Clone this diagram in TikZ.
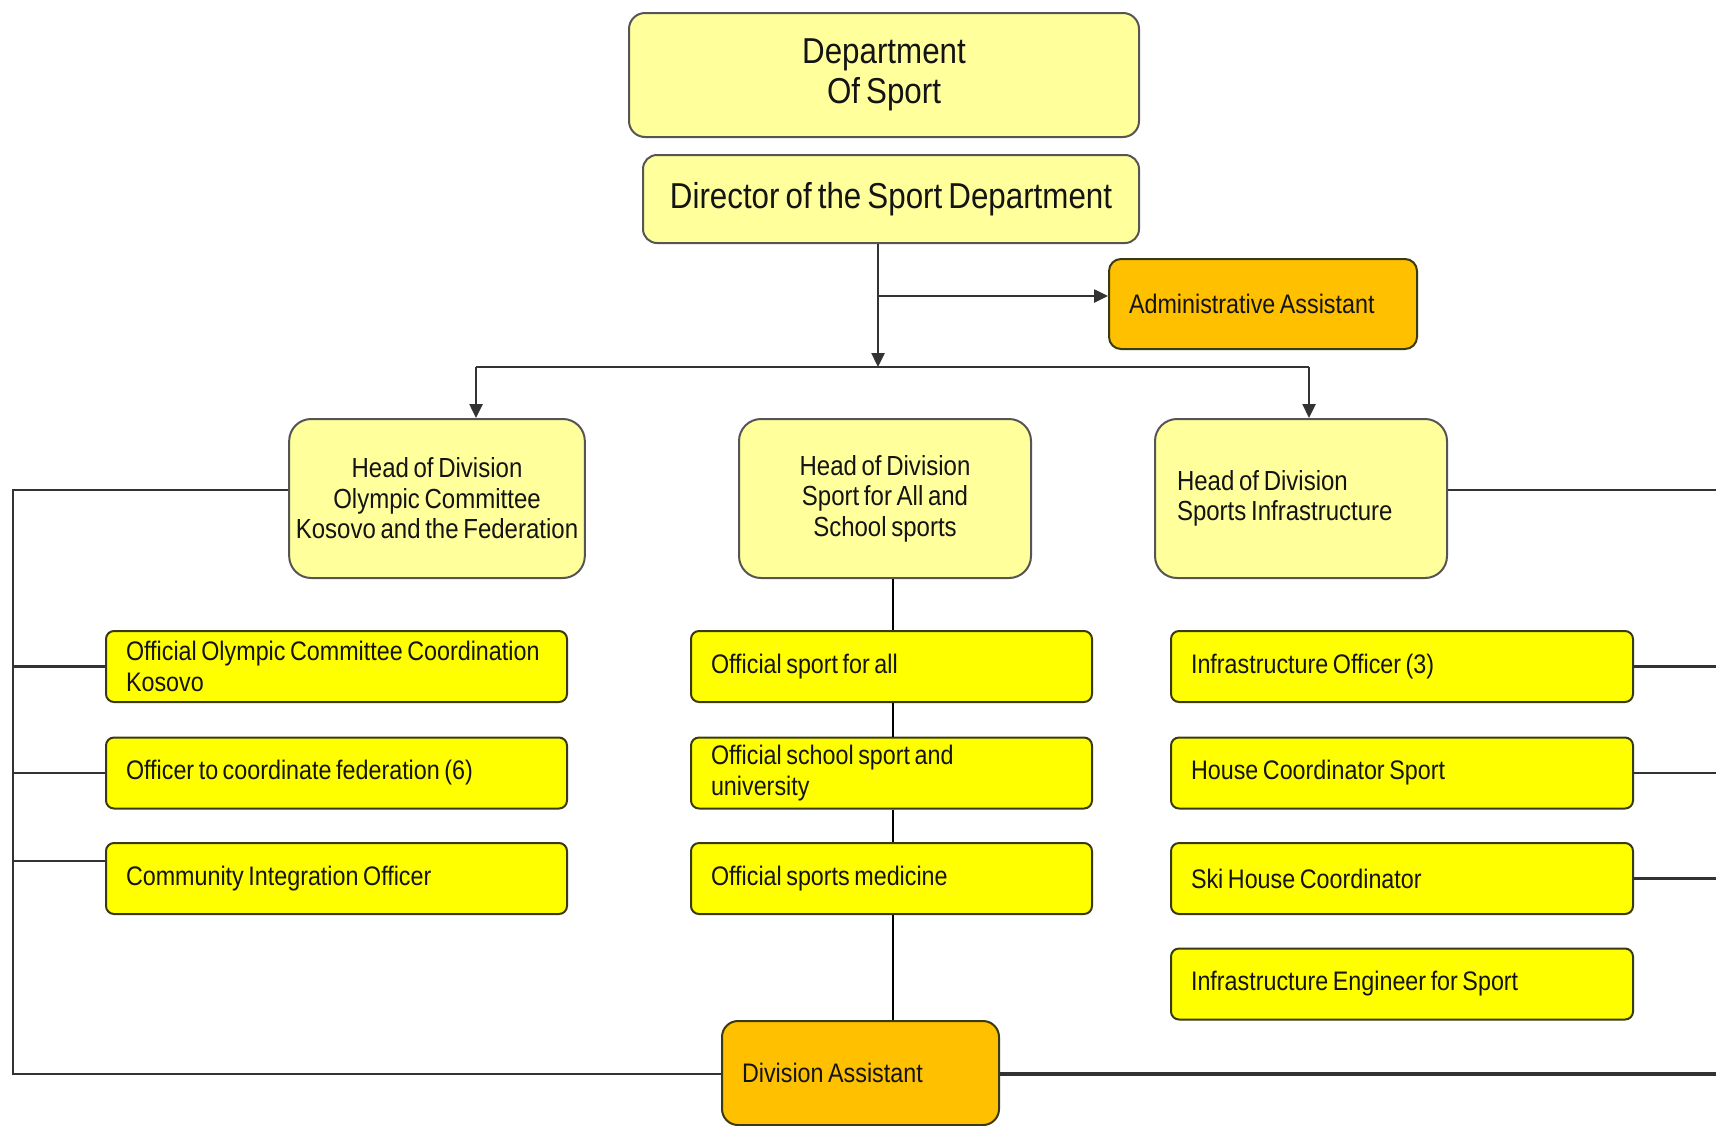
\documentclass[tikz,border=0pt]{standalone}
\usepackage{fontspec}
\setmainfont{Liberation Sans}[FakeStretch=0.87, WordSpace=0.7]
\usetikzlibrary{arrows.meta}

\definecolor{paleyel}{HTML}{FFFF9C}
\definecolor{brightyel}{HTML}{FFFF00}
\definecolor{amber}{HTML}{FFC000}
\definecolor{edgegray}{HTML}{555555}
\definecolor{edgeolive}{HTML}{3A3A12}
\definecolor{wirecol}{HTML}{333333}
\definecolor{ink}{HTML}{141414}

\begin{document}
\begin{tikzpicture}[x=0.5pt,y=-0.5pt,
  box/.style={draw, line width=1pt, text=ink, inner ysep=0pt},
  pale/.style={box, fill=paleyel, draw=edgegray},
  topbox/.style={pale, align=center, font=\fontsize{18}{19.7}\selectfont},
  headbox/.style={pale, minimum width=146pt, minimum height=79.5pt,
    rounded corners=11pt, font=\fontsize{13.8}{15.3}\selectfont},
  staff/.style={box, fill=brightyel, draw=edgeolive, rounded corners=4pt,
    minimum height=35.5pt, inner xsep=10pt, align=flush left,
    font=\fontsize{13.4}{15.3}\selectfont},
  staffL/.style={staff, text width=210.5pt},
  staffM/.style={staff, text width=180.5pt},
  staffR/.style={staff, text width=211pt},
  assist/.style={box, fill=amber, draw=edgeolive, inner xsep=10pt,
    align=flush left, font=\fontsize{13.4}{15.3}\selectfont},
  wire/.style={draw=wirecol, line width=1.25pt},
  spinewire/.style={draw=black, line width=0.75pt},
  tip/.style={wire, -{Triangle[length=7pt,width=6.5pt]}}]

\useasboundingbox (0,0) rectangle (1716,1125);

% top of the hierarchy
\node[topbox, minimum width=255pt, minimum height=62pt, rounded corners=8pt]
  (dept) at (884,75) {Department\\Of Sport};
\node[topbox, minimum width=248pt, minimum height=44pt, rounded corners=7pt]
  (director) at (891,199) {Director of the Sport Department};
\node[assist, text width=134pt, minimum height=45pt, rounded corners=6pt]
  (admin) at (1263,304) {Administrative Assistant};

% heads of division
\node[headbox, align=center] (headL) at (437,498.5)
  {Head of Division\\Olympic Committee\\Kosovo and the Federation};
\node[headbox, align=center] (headM) at (885,498.5)
  {Head of Division\\Sport for All and\\School sports};
\node[headbox, align=flush left, text width=124pt, inner xsep=11pt] (headR) at (1301,498.5)
  {Head of Division\\Sports Infrastructure};

% staff of the Olympic Committee division
\node[staffL] (olyco)   at (336.5,666.5) {Official Olympic Committee Coordination\\Kosovo};
\node[staffL] (fedoff)  at (336.5,773)   {Officer to coordinate federation (6)};
\node[staffL] (commoff) at (336.5,878.5) {Community Integration Officer};

% staff of the Sport for All division
\node[staffM] (sfa)     at (891.5,666.5) {Official sport for all};
\node[staffM] (school)  at (891.5,773)   {Official school sport and\\university};
\node[staffM] (medic)   at (891.5,878.5) {Official sports medicine};

% staff of the Infrastructure division
\node[staffR] (infoff)  at (1402,666.5) {Infrastructure Officer (3)};
\node[staffR] (housec)  at (1402,773)   {House Coordinator Sport};
\node[staffR] (skic)    at (1402,878.5) {Ski House Coordinator};
\node[staffR] (engin)   at (1402,984)   {Infrastructure Engineer for Sport};

% shared assistant
\node[assist, text width=118.5pt, minimum height=52pt, rounded corners=8pt]
  (divasst) at (860.5,1073) {Division Assistant};

% director's links
\coordinate (trunk) at (878,367);
\coordinate (adminfork) at (878,296);
\draw[tip] (director.south -| trunk) -- (trunk);
\draw[tip] (adminfork) -- (adminfork -| admin.west);

% distribution bar to the divisions
\coordinate (dropL) at (476,367);
\coordinate (dropR) at (1309,367);
\draw[wire] (dropL) -- (dropR);
\draw[tip] (dropL) -- (dropL |- headL.north);
\draw[tip] (dropR) -- (dropR |- headR.north);

% left bus
\coordinate (lbus) at (13,490);
\coordinate (lcorner) at (13,1074);
\coordinate (redge) at (1716,490);
\draw[wire] (lbus -| headL.west) -- (lbus) -- (lcorner) -- (lcorner -| divasst.west);
\draw[wire] (olyco.west -| lbus) -- (olyco.west);
\draw[wire] (fedoff.west -| lbus) -- (fedoff.west);
\draw[wire] (lbus |- 0,861) -- (commoff.west |- 0,861);
\draw[wire, line width=1.6pt] (lcorner -| divasst.east) -- (lcorner -| redge);

% right bus
\draw[wire] (redge -| headR.east) -- (redge);
\draw[wire] (infoff.east) -- (infoff.east -| redge);
\draw[wire] (housec.east) -- (housec.east -| redge);
\draw[wire] (skic.east) -- (skic.east -| redge);

% spine of the middle division
\coordinate (spine) at (893,0);
\draw[spinewire] (headM.south -| spine) -- (sfa.north -| spine);
\draw[spinewire] (sfa.south -| spine) -- (school.north -| spine);
\draw[spinewire] (school.south -| spine) -- (medic.north -| spine);
\draw[spinewire] (medic.south -| spine) -- (divasst.north -| spine);
\end{tikzpicture}
\end{document}
